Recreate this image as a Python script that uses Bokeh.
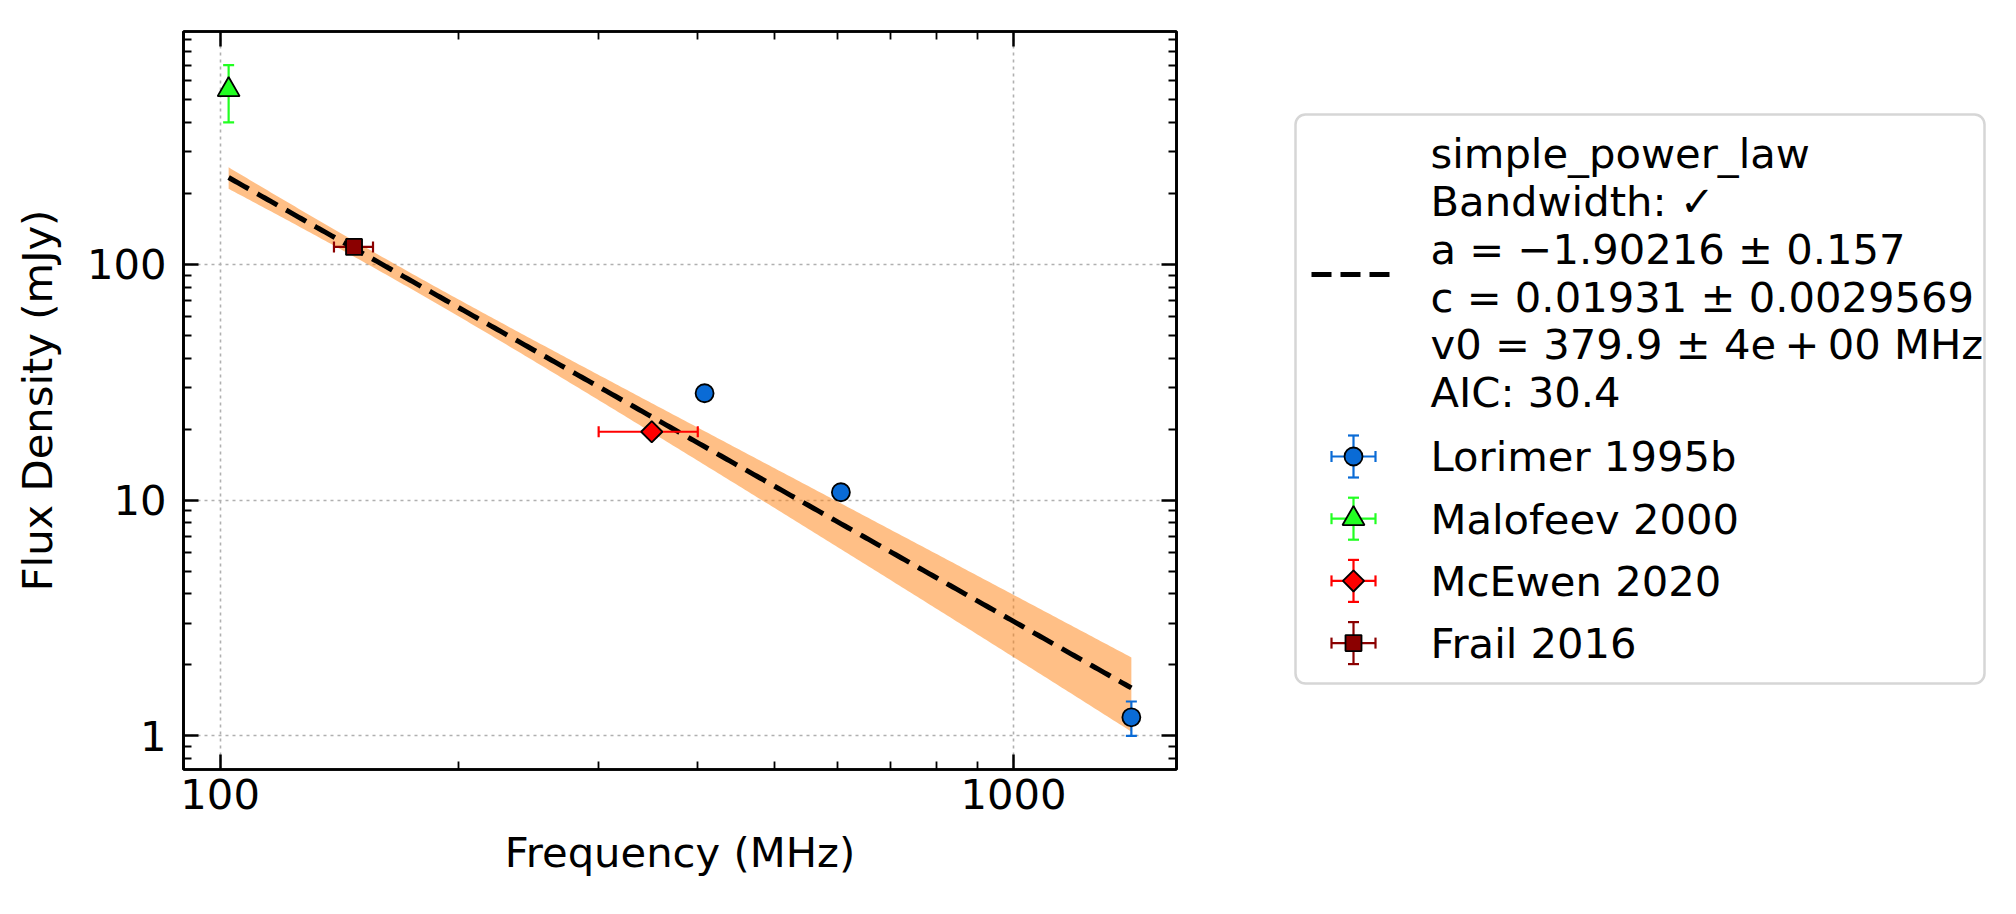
import numpy as np
from bokeh.plotting import figure
from bokeh.layouts import row
from bokeh.models import LogAxis, FixedTicker, Range1d
from bokeh.core.properties import value
from bokeh.embed import file_html
from bokeh.resources import INLINE

FONT = "DejaVu Sans"
FS = "41.7px"

# ---- flux density measurements (frequency in MHz, flux in mJy) ----
series_names = ["Lorimer 1995b", "Malofeev 2000", "McEwen 2020", "Frail 2016"]

lorimer_freq = [408.0, 606.0, 1408.0]
lorimer_freq_err = [0.0, 0.0, 0.0]
lorimer_flux = [28.4, 10.8, 1.2]
lorimer_flux_err = [1.5, 0.7, 0.2]

malofeev_freq = [102.5]
malofeev_freq_err = [0.0]
malofeev_flux = [550.0]
malofeev_flux_err = [150.0]

mcewen_freq = [350.0]
mcewen_freq_err = [50.0]
mcewen_flux = [19.5]
mcewen_flux_err = [1.0]

frail_freq = [147.5]
frail_freq_err = [8.35]
frail_flux = [118.5]
frail_flux_err = [5.0]

# ---- fitted simple power law  S = c (v / v0)^a  [Jy] ----
fit_name = "simple_power_law"
fit_a, fit_a_err = -1.90216, 0.157
fit_c, fit_c_err = 0.01931, 0.0029569
fit_v0 = 379.9
fit_ac_corr = 0.87
fit_aic = 30.4

x_ticks = [100, 1000]
x_tick_labels = ["100", "1000"]
y_ticks = [1, 10, 100]
y_tick_labels = ["1", "10", "100"]

# ---- styles ----
styles = {
    "Lorimer 1995b": dict(marker="circle", color="#0a6bd6", size=18, angle=0.0),
    "Malofeev 2000": dict(marker="triangle", color="#22ff22", size=22, angle=0.0),
    "McEwen 2020": dict(marker="square", color="#ff0000", size=15, angle=np.pi / 4),
    "Frail 2016": dict(marker="square", color="#8b0000", size=16, angle=0.0),
}
series = {
    "Lorimer 1995b": (lorimer_freq, lorimer_freq_err, lorimer_flux, lorimer_flux_err),
    "Malofeev 2000": (malofeev_freq, malofeev_freq_err, malofeev_flux, malofeev_flux_err),
    "McEwen 2020": (mcewen_freq, mcewen_freq_err, mcewen_flux, mcewen_flux_err),
    "Frail 2016": (frail_freq, frail_freq_err, frail_flux, frail_flux_err),
}

# ---- model curve and 1-sigma band ----
all_f = np.concatenate([np.asarray(v[0]) for v in series.values()])
fit_x = np.geomspace(all_f.min(), all_f.max(), 300)
ln_ratio = np.log(fit_x / fit_v0)
fit_y = 1000.0 * fit_c * (fit_x / fit_v0) ** fit_a
rel_c = fit_c_err / fit_c
rel_a = fit_a_err * ln_ratio
rel = np.sqrt(rel_c ** 2 + rel_a ** 2 + 2 * fit_ac_corr * rel_c * rel_a)
band_lo = fit_y * (1 - rel)
band_hi = fit_y * (1 + rel)

# ---- axis limits: 5 % log margins around everything drawn ----
xs_lo, xs_hi, ys_lo, ys_hi = [], [], [], []
for f, fe, s, se in series.values():
    f, fe, s, se = map(np.asarray, (f, fe, s, se))
    xs_lo.append((f - fe).min()); xs_hi.append((f + fe).max())
    ys_lo.append((s - se).min()); ys_hi.append((s + se).max())
lx0, lx1 = np.log10(min(xs_lo + [fit_x.min()])), np.log10(max(xs_hi + [fit_x.max()]))
ly0, ly1 = np.log10(min(ys_lo + [band_lo.min()])), np.log10(max(ys_hi + [band_hi.max()]))
mx, my = 0.05 * (lx1 - lx0), 0.05 * (ly1 - ly0)
x_range = Range1d(10 ** (lx0 - mx), 10 ** (lx1 + mx))
y_range = Range1d(10 ** (ly0 - my), 10 ** (ly1 + my))

BORDER_TOP, BORDER_BOTTOM = 31, 145
FIG_H = 914

p = figure(width=1200, height=FIG_H, x_axis_type="log", y_axis_type="log",
           x_range=x_range, y_range=y_range,
           output_backend="svg", toolbar_location=None,
           min_border_left=183, min_border_right=24,
           min_border_top=BORDER_TOP, min_border_bottom=BORDER_BOTTOM)
p.background_fill_color = "white"
p.border_fill_color = "white"
p.outline_line_color = "black"
p.outline_line_width = 2.7

x_minor = [90] + [m * 100 for m in range(2, 10)] + [m * 1000 for m in range(2, 10)]
y_minor = [m / 10 for m in range(2, 10)] + [m for m in range(2, 10)] + \
          [m * 10 for m in range(2, 10)] + [m * 100 for m in range(2, 10)]


def style_axis(ax, ticks, minor, labels, show_labels):
    ax.ticker = FixedTicker(ticks=ticks, minor_ticks=minor)
    ax.major_tick_in = 15
    ax.major_tick_out = 0
    ax.minor_tick_in = 8
    ax.minor_tick_out = 0
    ax.major_tick_line_width = 2.5
    ax.minor_tick_line_width = 1.8
    ax.major_tick_line_color = "black"
    ax.minor_tick_line_color = "black"
    ax.axis_line_width = 2.7
    ax.axis_line_color = "black"
    ax.major_label_text_font = FONT
    ax.axis_label_text_font = FONT
    ax.axis_label_text_font_size = FS
    ax.axis_label_text_font_style = "normal"
    ax.axis_label_text_color = "black"
    if show_labels:
        ax.major_label_overrides = {t: l for t, l in zip(ticks, labels)}
        ax.major_label_text_font_size = FS
        ax.major_label_text_color = "black"
    else:
        # mirrored axis: ticks only, labels not painted
        ax.major_label_text_font_size = "1px"
        ax.major_label_text_color = None
        ax.major_label_standoff = 0


style_axis(p.xaxis[0], x_ticks, x_minor, x_tick_labels, True)
style_axis(p.yaxis[0], y_ticks, y_minor, y_tick_labels, True)
p.xaxis[0].axis_label = "Frequency (MHz)"
p.yaxis[0].axis_label = "Flux Density (mJy)"
p.xaxis[0].major_label_standoff = 9
p.yaxis[0].major_label_standoff = 17
p.xaxis[0].axis_label_standoff = 16
p.yaxis[0].axis_label_standoff = 22

top_ax = LogAxis()
right_ax = LogAxis()
style_axis(top_ax, x_ticks, x_minor, x_tick_labels, False)
style_axis(right_ax, y_ticks, y_minor, y_tick_labels, False)
p.add_layout(top_ax, "above")
p.add_layout(right_ax, "right")

for g in (p.xgrid[0], p.ygrid[0]):
    g.grid_line_color = "#b0b0b0"
    g.grid_line_width = 1.6
    g.grid_line_dash = "3 4"
p.xgrid[0].ticker = FixedTicker(ticks=x_ticks)
p.ygrid[0].ticker = FixedTicker(ticks=y_ticks)

# fit band and curve
p.varea(x=fit_x, y1=band_lo, y2=band_hi, fill_color="#ff7f0e", fill_alpha=0.5)
p.line(fit_x, fit_y, line_color="black", line_width=5, line_dash="23 10")

CAP = 11
ERR_W = 2.2
for name in series_names:
    f, fe, s, se = map(np.asarray, series[name])
    st = styles[name]
    col = st["color"]
    ys = se > 0
    if ys.any():
        p.segment(f[ys], (s - se)[ys], f[ys], (s + se)[ys], line_color=col, line_width=ERR_W)
        p.scatter(np.concatenate([f[ys], f[ys]]), np.concatenate([(s - se)[ys], (s + se)[ys]]),
                  marker="dash", size=CAP, line_color=col, line_width=ERR_W)
    xs = fe > 0
    if xs.any():
        p.segment((f - fe)[xs], s[xs], (f + fe)[xs], s[xs], line_color=col, line_width=ERR_W)
        p.scatter(np.concatenate([(f - fe)[xs], (f + fe)[xs]]), np.concatenate([s[xs], s[xs]]),
                  marker="dash", angle=np.pi / 2, size=CAP, line_color=col, line_width=ERR_W)
    p.scatter(f, s, marker=st["marker"], size=st["size"], angle=st["angle"],
              fill_color=col, line_color="black", line_width=1.8)

# ---- legend panel (coordinates are page pixels) ----
LW, LX0 = 816, 1200
leg = figure(width=LW, height=FIG_H, x_range=Range1d(LX0, LX0 + LW),
             y_range=Range1d(FIG_H - BORDER_BOTTOM, BORDER_TOP),
             output_backend="svg", toolbar_location=None,
             x_axis_location=None, y_axis_location=None,
             min_border_left=0, min_border_right=0,
             min_border_top=BORDER_TOP, min_border_bottom=BORDER_BOTTOM)
leg.grid.visible = False
leg.outline_line_color = None
leg.background_fill_color = "white"
leg.border_fill_color = "white"

box_l, box_r, box_t, box_b = 1295, 1984, 114, 683
leg.quad(left=box_l, right=box_r, top=box_t, bottom=box_b, fill_color="white",
         line_color="#d6d6d6", line_width=2.5, border_radius=10)

key_x0, key_x1 = 1311, 1395
key_xc = 0.5 * (key_x0 + key_x1)
text_x = 1430
TEXT_DY = -15  # lift text glyph baselines onto the key centres

fit_lines = [
    fit_name,
    "Bandwidth: \u2713",
    f"a = \u2212{abs(fit_a):.5f} \u00b1 {fit_a_err:.3f}",
    f"c = {fit_c:.5f} \u00b1 {fit_c_err:.7f}",
    f"v0 = {fit_v0:.1f} \u00b1 4e\u2009+\u200900 MHz",
    f"AIC: {fit_aic:.1f}",
]
line_gap = 47.8
first_base = 168.2 + TEXT_DY
bases = [first_base + i * line_gap for i in range(len(fit_lines))]
leg.text(x=[text_x] * len(fit_lines), y=bases, text=fit_lines,
         text_font=value(FONT), text_font_size=value(FS), text_color="black",
         text_baseline="alphabetic", text_align="left")
fit_key_y = 274
leg.line([key_x0, key_x1], [fit_key_y, fit_key_y], line_color="black",
         line_width=5, line_dash="20 9")

row0, row_gap = 456, 62.2
half_v, half_h = 21, 22
for i, name in enumerate(series_names):
    st = styles[name]
    col = st["color"]
    yc = row0 + i * row_gap
    leg.segment([key_xc, key_xc - half_h], [yc - half_v, yc], [key_xc, key_xc + half_h], [yc + half_v, yc],
                line_color=col, line_width=ERR_W)
    leg.scatter([key_xc, key_xc], [yc - half_v, yc + half_v], marker="dash", size=CAP,
                line_color=col, line_width=ERR_W)
    leg.scatter([key_xc - half_h, key_xc + half_h], [yc, yc], marker="dash", angle=np.pi / 2,
                size=CAP, line_color=col, line_width=ERR_W)
    leg.scatter([key_xc], [yc], marker=st["marker"], size=st["size"], angle=st["angle"],
                fill_color=col, line_color="black", line_width=1.8)
    leg.text(x=[text_x], y=[yc + 15.3 + TEXT_DY], text=[name], text_font=value(FONT),
             text_font_size=value(FS), text_color="black",
             text_baseline="alphabetic", text_align="left")

layout = row(p, leg, spacing=0)
open("out.html", "w").write(file_html(layout, INLINE))
